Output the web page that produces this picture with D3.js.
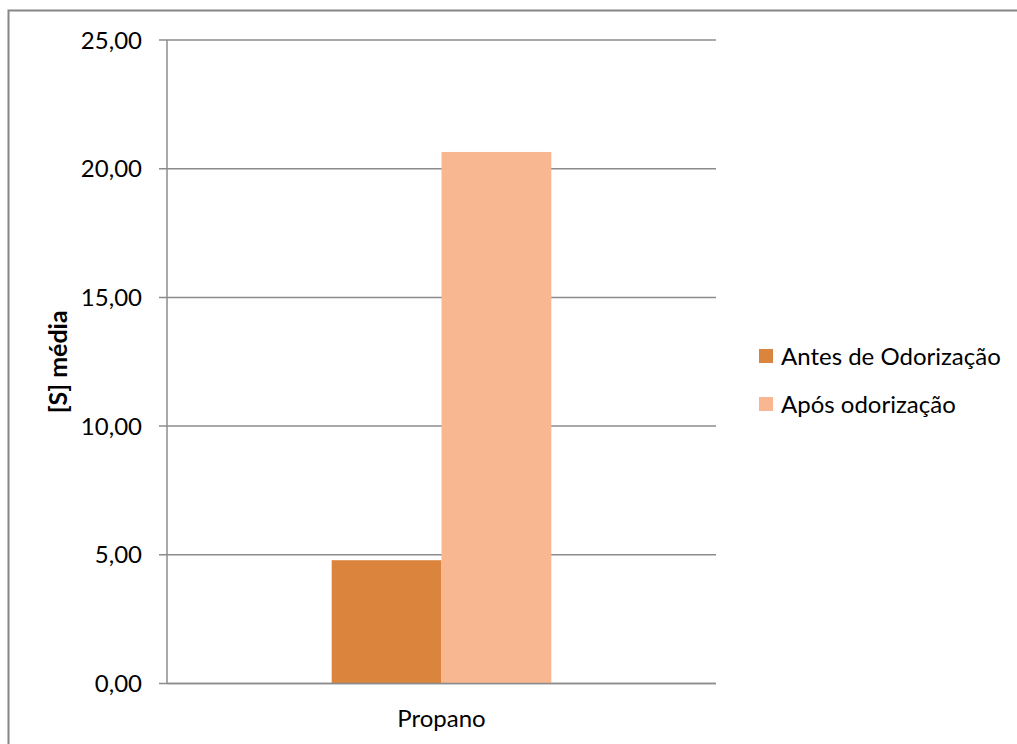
<!DOCTYPE html>
<html><head><meta charset="utf-8">
<script src="https://cdn.jsdelivr.net/npm/d3@7"></script>
<style>body{margin:0;background:#fff;} svg{display:block;}</style>
</head><body>
<script>
const categories = ["Propano"];
const seriesNames = ["Antes de Odorização", "Após odorização"];
const seriesValues = [[4.79], [20.65]];
const yTicks = [0, 5, 10, 15, 20, 25];
const colors = ["#DB843D", "#F9B791"];

(function () {
const W = 1017, H = 744;
const font = "Lato, sans-serif";
const svg = d3.select("body").append("svg").attr("width", W).attr("height", H);
svg.append("rect").attr("x", 8.5).attr("y", 10.5).attr("width", 1020).attr("height", 760)
  .attr("fill", "#fff").attr("stroke", "#868686").attr("stroke-width", 2);

const pLeft = 167, pRight = 716, pTop = 40, pBottom = 683.5;
const y = d3.scaleLinear().domain([0, 25]).range([pBottom, pTop]);
const x0 = d3.scaleBand().domain(categories).range([pLeft, pRight]).paddingInner(0).paddingOuter(0.75);
const x1 = d3.scaleBand().domain(seriesNames).range([0, x0.bandwidth()]);

// gridlines
svg.append("g").selectAll("line").data(yTicks).join("line")
  .attr("x1", pLeft - 8).attr("x2", pRight).attr("y1", d => y(d)).attr("y2", d => y(d))
  .attr("stroke", "#8c8c8c").attr("stroke-width", 1.5);

// bars
const g = svg.append("g");
categories.forEach((c, ci) => {
  seriesNames.forEach((s, si) => {
    const v = seriesValues[si][ci];
    g.append("rect").attr("x", x0(c) + x1(s)).attr("width", x1.bandwidth())
      .attr("y", y(v)).attr("height", y(0) - y(v)).attr("fill", colors[si]);
  });
});

// axes lines
svg.append("line").attr("x1", pLeft).attr("x2", pLeft).attr("y1", pTop).attr("y2", pBottom)
  .attr("stroke", "#8c8c8c").attr("stroke-width", 1.5);
svg.append("line").attr("x1", pLeft).attr("x2", pRight).attr("y1", y(0)).attr("y2", y(0))
  .attr("stroke", "#8c8c8c").attr("stroke-width", 1.5);

// tick labels
svg.append("g").selectAll("text").data(yTicks).join("text")
  .attr("x", 142).attr("y", d => y(d)).attr("dy", "0.36em")
  .attr("text-anchor", "end").attr("font-family", font).attr("font-size", 24)
  .attr("fill", "#000").text(d => d.toFixed(2).replace(".", ","));

// category label
svg.append("g").selectAll("text").data(categories).join("text")
  .attr("x", d => x0(d) + x0.bandwidth() / 2).attr("y", 718).attr("dy", "0.36em")
  .attr("text-anchor", "middle").attr("font-family", font).attr("font-size", 24)
  .text(d => d);

// y title
svg.append("text").attr("transform", `translate(58,${(pTop + pBottom) / 2}) rotate(-90)`)
  .attr("text-anchor", "middle").attr("dy", "0.36em").attr("font-family", font)
  .attr("font-weight", "bold").attr("font-size", 25).text("[S] média");

// legend
const lg = svg.append("g").selectAll("g").data(seriesNames).join("g")
  .attr("transform", (d, i) => `translate(759,${356 + i * 48})`);
lg.append("rect").attr("x", 0).attr("y", -7).attr("width", 14).attr("height", 14)
  .attr("fill", (d, i) => colors[i]);
lg.append("text").attr("x", 22).attr("y", 0).attr("dy", "0.36em")
  .attr("font-family", font).attr("font-size", 24).text(d => d);
})();
</script>
</body></html>
